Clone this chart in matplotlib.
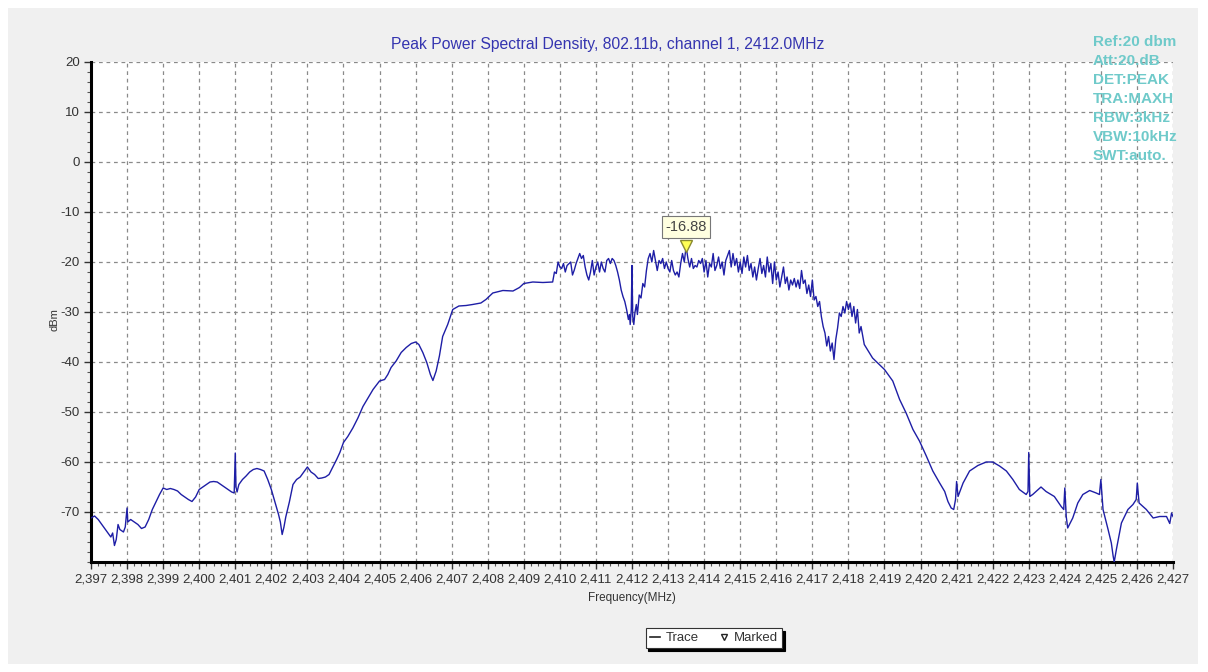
import matplotlib
matplotlib.use("Agg")
import matplotlib.pyplot as plt
from matplotlib.lines import Line2D
from matplotlib.patches import Rectangle
from matplotlib.ticker import FuncFormatter, MultipleLocator

plt.rcParams['font.family'] = ['Liberation Sans', 'DejaVu Sans']
plt.rcParams['axes.unicode_minus'] = False

# ---- data ----
freq_mhz = [
    2397.0, 2397.1, 2397.2, 2397.3, 2397.4, 2397.5, 2397.55, 2397.6, 2397.65, 2397.7,
    2397.75, 2397.8, 2397.9, 2397.95, 2398.0, 2398.02, 2398.1, 2398.2, 2398.3, 2398.4,
    2398.5, 2398.6, 2398.7, 2398.8, 2398.9, 2399.0, 2399.1, 2399.2, 2399.3, 2399.4,
    2399.5, 2399.6, 2399.7, 2399.8, 2399.9, 2400.0, 2400.1, 2400.2, 2400.3, 2400.4,
    2400.5, 2400.6, 2400.7, 2400.8, 2400.9, 2400.97, 2401.0, 2401.02, 2401.05, 2401.1,
    2401.2, 2401.3, 2401.4, 2401.5, 2401.6, 2401.7, 2401.8, 2401.9, 2402.0, 2402.1,
    2402.2, 2402.25, 2402.3, 2402.35, 2402.4, 2402.5, 2402.6, 2402.7, 2402.8, 2402.9,
    2403.0, 2403.1, 2403.2, 2403.3, 2403.4, 2403.5, 2403.6, 2403.72, 2403.81, 2403.9,
    2404.0, 2404.12, 2404.26, 2404.4, 2404.54, 2404.68, 2404.82, 2405.0, 2405.14, 2405.23,
    2405.32, 2405.46, 2405.6, 2405.74, 2405.88, 2406.0, 2406.09, 2406.2, 2406.31, 2406.41,
    2406.48, 2406.57, 2406.66, 2406.75, 2406.89, 2407.03, 2407.2, 2407.4, 2407.58, 2407.81,
    2407.95, 2408.14, 2408.42, 2408.7, 2408.88, 2409.0, 2409.25, 2409.53, 2409.8, 2409.85,
    2409.9, 2409.95, 2410.0, 2410.05, 2410.1, 2410.15, 2410.2, 2410.3, 2410.35, 2410.4,
    2410.45, 2410.5, 2410.55, 2410.6, 2410.65, 2410.7, 2410.75, 2410.8, 2410.85, 2410.9,
    2410.95, 2411.0, 2411.05, 2411.1, 2411.15, 2411.2, 2411.25, 2411.3, 2411.35, 2411.4,
    2411.45, 2411.5, 2411.55, 2411.6, 2411.65, 2411.7, 2411.75, 2411.8, 2411.85, 2411.9,
    2411.93, 2411.95, 2411.98, 2412.0, 2412.02, 2412.05, 2412.08, 2412.12, 2412.15, 2412.2,
    2412.25, 2412.3, 2412.35, 2412.4, 2412.45, 2412.5, 2412.55, 2412.6, 2412.65, 2412.7,
    2412.75, 2412.8, 2412.85, 2412.9, 2412.95, 2413.0, 2413.05, 2413.1, 2413.15, 2413.2,
    2413.25, 2413.3, 2413.35, 2413.4, 2413.45, 2413.5, 2413.55, 2413.6, 2413.65, 2413.7,
    2413.75, 2413.8, 2413.85, 2413.9, 2413.95, 2414.0, 2414.05, 2414.1, 2414.15, 2414.2,
    2414.25, 2414.3, 2414.35, 2414.4, 2414.45, 2414.5, 2414.55, 2414.6, 2414.65, 2414.7,
    2414.75, 2414.8, 2414.85, 2414.9, 2414.95, 2415.0, 2415.05, 2415.1, 2415.15, 2415.2,
    2415.25, 2415.3, 2415.35, 2415.4, 2415.45, 2415.5, 2415.55, 2415.6, 2415.65, 2415.7,
    2415.75, 2415.8, 2415.85, 2415.9, 2415.95, 2416.0, 2416.05, 2416.1, 2416.15, 2416.2,
    2416.25, 2416.3, 2416.35, 2416.4, 2416.45, 2416.5, 2416.55, 2416.6, 2416.65, 2416.7,
    2416.75, 2416.8, 2416.85, 2416.9, 2416.95, 2417.0, 2417.05, 2417.1, 2417.15, 2417.2,
    2417.25, 2417.3, 2417.35, 2417.4, 2417.45, 2417.5, 2417.55, 2417.6, 2417.65, 2417.7,
    2417.75, 2417.8, 2417.85, 2417.9, 2417.95, 2418.0, 2418.05, 2418.1, 2418.15, 2418.2,
    2418.25, 2418.3, 2418.35, 2418.44, 2418.67, 2419.0, 2419.23, 2419.42, 2419.6, 2419.79,
    2419.97, 2420.16, 2420.34, 2420.53, 2420.67, 2420.76, 2420.85, 2420.92, 2420.97, 2421.0,
    2421.04, 2421.18, 2421.36, 2421.59, 2421.82, 2422.0, 2422.19, 2422.38, 2422.56, 2422.74,
    2422.93, 2422.98, 2423.0, 2423.03, 2423.11, 2423.34, 2423.48, 2423.71, 2423.9, 2423.97,
    2424.0, 2424.04, 2424.08, 2424.22, 2424.36, 2424.5, 2424.69, 2424.87, 2424.96, 2425.0,
    2425.06, 2425.2, 2425.29, 2425.34, 2425.37, 2425.43, 2425.57, 2425.75, 2425.89, 2425.98,
    2426.01, 2426.06, 2426.26, 2426.45, 2426.63, 2426.82, 2426.91, 2426.96, 2427.0,
]
power_dbm = [
    -71.2, -70.8, -71.5, -72.5, -73.5, -74.5, -75.0, -74.2, -76.7, -75.5,
    -72.5, -73.5, -74.0, -73.0, -69.2, -72.0, -71.5, -72.0, -72.5, -73.3,
    -73.0, -71.5, -69.5, -68.0, -66.5, -65.2, -65.5, -65.3, -65.5, -65.8,
    -66.5, -67.0, -67.5, -67.9, -67.0, -65.5, -65.0, -64.5, -64.0, -63.9,
    -64.0, -64.5, -65.0, -65.5, -66.0, -66.2, -58.2, -65.0, -66.0, -64.5,
    -63.5, -62.8, -62.0, -61.5, -61.3, -61.5, -61.8, -63.5, -65.5, -68.0,
    -70.5, -72.0, -74.5, -73.0, -71.0, -68.0, -64.5, -63.5, -63.0, -62.0,
    -61.0, -62.0, -62.5, -63.3, -63.2, -63.0, -62.5, -60.8, -59.5, -58.1,
    -56.1, -54.9, -53.2, -51.2, -48.9, -47.2, -45.5, -43.8, -43.5, -42.5,
    -41.1, -39.8, -38.1, -37.1, -36.3, -36.0, -36.5, -38.1, -40.1, -42.5,
    -43.7, -41.8, -38.8, -34.9, -32.5, -29.5, -28.8, -28.7, -28.5, -28.2,
    -27.5, -26.2, -25.7, -25.8, -25.1, -24.3, -24.0, -24.1, -24.0, -22.0,
    -22.3, -20.0, -21.0, -21.3, -20.3, -22.0, -20.7, -20.0, -22.6, -21.6,
    -20.3, -19.3, -18.3, -19.3, -18.7, -21.0, -22.6, -23.6, -22.0, -19.7,
    -22.6, -21.0, -20.0, -22.0, -20.0, -21.3, -22.0, -19.7, -19.3, -20.3,
    -19.3, -19.7, -20.7, -22.0, -23.6, -25.6, -26.9, -27.9, -29.5, -31.5,
    -30.5, -32.5, -29.5, -20.7, -30.9, -32.5, -30.2, -28.5, -30.5, -26.6,
    -27.2, -24.3, -25.0, -21.7, -19.3, -18.3, -20.0, -17.7, -19.7, -21.7,
    -19.7, -20.3, -19.3, -21.3, -20.0, -21.3, -22.0, -19.7, -21.7, -22.6,
    -22.0, -23.0, -20.3, -18.3, -20.0, -16.88, -19.3, -21.0, -19.3, -21.3,
    -20.7, -21.0, -19.7, -20.3, -19.3, -22.0, -19.7, -23.0, -20.3, -21.0,
    -18.3, -21.7, -20.7, -19.0, -21.3, -20.0, -22.6, -19.7, -18.7, -17.7,
    -21.0, -18.3, -20.7, -19.3, -22.0, -20.0, -22.3, -19.0, -21.0, -18.7,
    -21.7, -20.3, -23.0, -21.0, -23.6, -21.3, -19.3, -22.3, -20.7, -23.0,
    -19.0, -22.0, -20.3, -24.3, -20.0, -23.6, -22.0, -25.0, -23.0, -21.0,
    -24.3, -23.0, -25.6, -23.6, -24.6, -23.3, -25.0, -23.6, -25.3, -21.7,
    -24.3, -23.6, -26.3, -24.6, -26.9, -23.6, -27.6, -26.9, -28.9, -27.9,
    -30.9, -32.9, -34.2, -36.8, -34.9, -37.8, -36.2, -39.5, -35.5, -33.2,
    -30.2, -30.9, -28.9, -30.2, -27.9, -29.5, -28.2, -30.9, -28.9, -32.2,
    -29.5, -34.2, -32.9, -36.5, -39.2, -41.5, -43.8, -47.5, -50.2, -53.5,
    -55.8, -58.8, -61.8, -64.2, -65.9, -67.9, -69.2, -69.5, -67.5, -63.9,
    -66.9, -64.2, -61.8, -60.7, -60.0, -60.0, -60.8, -61.8, -63.5, -65.5,
    -66.5, -65.9, -58.1, -66.9, -66.5, -65.0, -65.9, -66.9, -68.9, -69.5,
    -65.2, -70.9, -73.2, -71.2, -68.2, -66.5, -65.7, -66.2, -66.5, -63.5,
    -69.5, -73.5, -76.2, -78.8, -80.0, -77.5, -72.2, -69.5, -68.5, -67.5,
    -64.2, -68.2, -69.5, -71.2, -70.9, -70.9, -72.3, -70.2, -70.9,
]
marker_freq = 2413.5
marker_value = -16.88
x_ticks = list(range(2397, 2428))
y_ticks = [-70, -60, -50, -40, -30, -20, -10, 0, 10, 20]
title = "Peak Power Spectral Density, 802.11b, channel 1, 2412.0MHz"
settings = ["Ref:20 dbm", "Att:20.dB", "DET:PEAK", "TRA:MAXH",
            "RBW:3kHz", "VBW:10kHz", "SWT:auto."]

W, H = 1208, 672
fig = plt.figure(figsize=(W / 100, H / 100), dpi=100, facecolor='white')

# grey panel behind everything
fig.patches.append(Rectangle((8 / W, 8 / H), (1198 - 8) / W, (664 - 8) / H,
                             transform=fig.transFigure, facecolor='#f0f0f0',
                             edgecolor='none', zorder=-10))

ax = fig.add_axes([91 / W, 1 - 562 / H, (1173 - 91) / W, (562 - 62) / H])
ax.set_zorder(1)
ax.set_facecolor('white')
ax.plot(freq_mhz, power_dbm, color='#1e1ea6', lw=1.0, zorder=3)

ax.set_xlim(2397, 2427)
ax.set_ylim(-80, 20)
ax.set_xticks(x_ticks)
ax.set_yticks(y_ticks)
ax.xaxis.set_minor_locator(MultipleLocator(0.2))
ax.yaxis.set_minor_locator(MultipleLocator(2))
ax.xaxis.set_major_formatter(FuncFormatter(lambda v, p: f"{v:,.0f}"))
ax.tick_params(axis='both', which='major', direction='out', length=5, width=1,
               colors='#333333', labelsize=9.5, pad=3)
ax.tick_params(axis='both', which='minor', direction='out', length=3, width=0.8,
               colors='#555555')
for s in ['top', 'right']:
    ax.spines[s].set_visible(False)
for s in ['left', 'bottom']:
    ax.spines[s].set_linewidth(2.2)
    ax.spines[s].set_color('black')
ax.grid(True, which='major', color='#8a8a8a', linestyle=(0, (3, 3)), lw=0.9)

ax.set_xlabel("Frequency(MHz)", fontsize=8.5, color='#333333', labelpad=5)
ax.set_ylabel("dBm", fontsize=8, color='#333333')
ax.yaxis.set_label_coords((59 - 91) / (1173 - 91), (562 - 320) / 500)

fig.text(608 / W, 1 - 44 / H, title, ha='center', va='center',
         fontsize=11.3, color='#3535b0')

for i, s in enumerate(settings):
    fig.text(1093 / W, 1 - (42 + i * 19) / H, s, ha='left', va='center',
             fontsize=11, fontweight='bold', color='#6fcaca', zorder=5)

# marker
ax.plot([marker_freq], [marker_value], marker='v', markersize=8,
        markerfacecolor='#ffff55', markeredgecolor='#8a8a30', lw=0, zorder=5)
ax.annotate(f"{marker_value:.2f}", xy=(marker_freq, marker_value),
            xytext=(0, 14), textcoords='offset points', ha='center', va='center',
            fontsize=10.5, color='#444444',
            bbox=dict(boxstyle='square,pad=0.25', facecolor='#ffffe0',
                      edgecolor='#777777', lw=0.8), zorder=6)

handles = [Line2D([], [], color='#222222', lw=1.2),
           Line2D([], [], marker='v', color='#222222', markerfacecolor='white',
                  markersize=5, lw=0)]
leg = fig.legend(handles, ["Trace", "Marked"], loc='center',
                 bbox_to_anchor=(714 / W, 1 - 638 / H), ncol=2, fontsize=9.5,
                 frameon=True, fancybox=False, shadow={'color': 'black', 'alpha': 1},
                 handlelength=0.8, handletextpad=0.4, columnspacing=1.5,
                 borderpad=0.3)
leg.get_frame().set_edgecolor('#333333')
leg.get_frame().set_linewidth(0.8)
for t in leg.get_texts():
    t.set_color('#333333')

fig.savefig("out.png", dpi=100, facecolor=fig.get_facecolor())
